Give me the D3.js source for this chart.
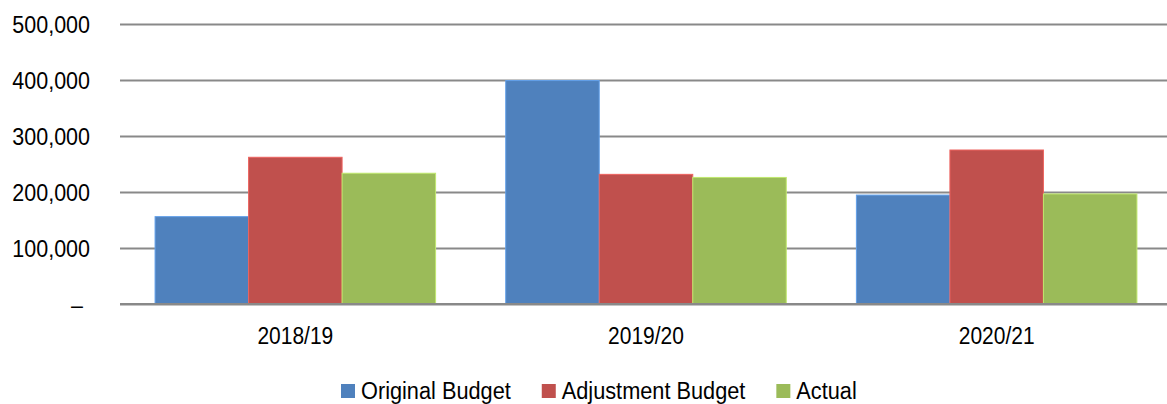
<!DOCTYPE html>
<html>
<head>
<meta charset="utf-8">
<script src="https://cdn.jsdelivr.net/npm/d3@7"></script>
<style>
  html, body { margin: 0; padding: 0; background: #ffffff; }
  svg { display: block; }
  text { font-family: "Liberation Sans", Arial, sans-serif; fill: #000; }
</style>
</head>
<body>
<div id="chart"></div>
<script>
// Budget comparison by financial year
const years = ["2018/19", "2019/20", "2020/21"];
const seriesNames = ["Original Budget", "Adjustment Budget", "Actual"];
const originalBudget = [156000, 399000, 194500];
const adjustmentBudget = [262000, 231500, 275000];
const actual = [233500, 226000, 196500];
const yTicks = [0, 100000, 200000, 300000, 400000, 500000];
const colors = ["#4F81BD", "#C0504D", "#9BBB59"];

const seriesValues = [originalBudget, adjustmentBudget, actual];
const rows = years.map((y, i) => ({
  year: y,
  values: seriesNames.map((s, j) => ({ name: s, value: seriesValues[j][i], color: colors[j] }))
}));

const W = 1167, H = 404;
const FONT = 24.7;
const svg = d3.select("#chart").append("svg").attr("width", W).attr("height", H);

// Condensed lettering: squeeze each label horizontally around its anchor
function condense(sel, k) {
  sel.each(function () {
    const w = this.getComputedTextLength();
    d3.select(this).attr("textLength", w * k).attr("lengthAdjust", "spacingAndGlyphs");
  });
}

const x0 = d3.scaleBand().domain(years).range([120, 1172]).paddingInner(0.2).paddingOuter(0.1);
const x1 = d3.scaleBand().domain(seriesNames).range([0, x0.bandwidth()]);
const y = d3.scaleLinear().domain([0, 500000]).range([304, 24]);

// Horizontal gridlines and value labels
const yAxis = d3.axisLeft(y)
  .tickValues(yTicks)
  .tickSize(-(1172 - 120))
  .tickPadding(30)
  .tickFormat(d => d === 0 ? "\u2013" : d3.format(",")(d));

const gy = svg.append("g").attr("transform", "translate(120,0)").call(yAxis);
gy.select(".domain").remove();
gy.selectAll(".tick line").attr("stroke", "#898989").attr("stroke-width", 2);
gy.selectAll(".tick text").attr("font-size", FONT).attr("font-family", null)
  .attr("dy", "0.34em")
  .attr("dx", d => d === 0 ? -7 : 0)
  .call(condense, 0.87);

// Bars
const groups = svg.append("g").selectAll("g").data(rows).join("g")
  .attr("transform", d => `translate(${x0(d.year)},0)`);
groups.selectAll("rect").data(d => d.values).join("rect")
  .attr("x", d => x1(d.name))
  .attr("y", d => y(d.value))
  .attr("width", x1.bandwidth())
  .attr("height", d => y(0) - y(d.value))
  .attr("fill", d => d.color)
  .attr("stroke", d => d3.color(d.color).brighter(0.6))
  .attr("stroke-width", 1);

// Baseline drawn over the bars
svg.append("line").attr("x1", 120).attr("x2", 1172).attr("y1", y(0)).attr("y2", y(0))
  .attr("stroke", "#898989").attr("stroke-width", 2);

// Category labels
const xAxis = d3.axisBottom(x0).tickSize(0).tickPadding(0);
const gx = svg.append("g").attr("transform", "translate(0,344)").call(xAxis);
gx.select(".domain").remove();
gx.selectAll(".tick text").attr("font-size", FONT).attr("font-family", null).attr("dy", 0).attr("y", 0).call(condense, 0.85);

// Legend, laid out left to right
const LEGEND_K = 0.88;
const legend = svg.append("g").attr("transform", "translate(341,384)");
let cursor = 0;
seriesNames.forEach((name, i) => {
  const item = legend.append("g").attr("transform", `translate(${cursor},0)`);
  item.append("rect").attr("width", 14).attr("height", 14).attr("fill", colors[i]);
  const t = item.append("text").attr("x", 20).attr("y", 15).attr("font-size", FONT).text(name);
  const natural = t.node().getComputedTextLength();
  t.attr("textLength", natural * LEGEND_K).attr("lengthAdjust", "spacingAndGlyphs");
  cursor += 20 + natural * LEGEND_K + 31;
});
</script>
</body>
</html>
